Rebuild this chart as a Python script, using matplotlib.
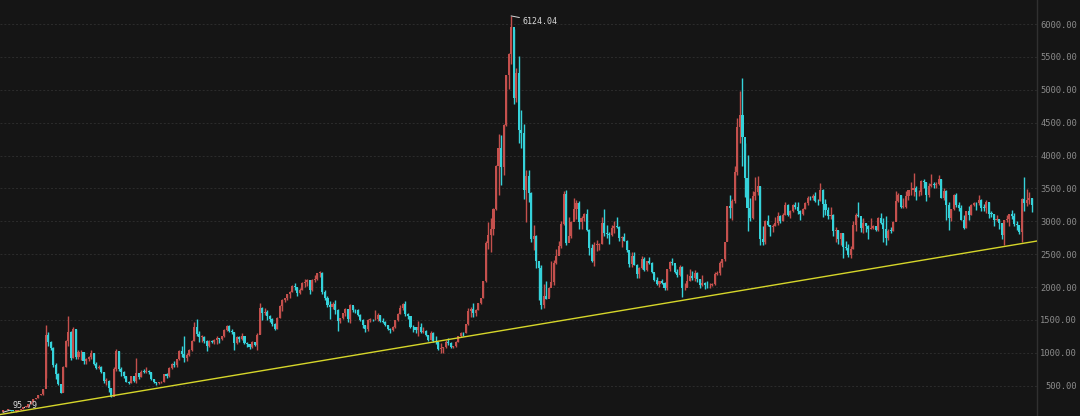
import matplotlib
matplotlib.use('Agg')
import matplotlib.pyplot as plt
import numpy as np

# monthly candles, Dec 1990 .. Jan 2025 (open = previous month close)
FIRST_OPEN = 96.05

close_px = [
    128,
    130, 133, 120, 114, 115, 138, 145, 178, 181, 219, 260, 293,
    313, 365, 376, 445, 1266, 1166, 1080, 822, 672, 526, 393, 780,
    1179, 1320, 926, 1358, 935, 1007, 1007, 880, 900, 931, 1000, 834,
    776, 792, 709, 570, 573, 467, 333, 748, 1033, 750, 713, 648,
    563, 549, 648, 565, 700, 630, 716, 713, 727, 716, 602, 555,
    538, 550, 560, 677, 643, 776, 826, 808, 904, 1036, 976, 917,
    964, 1040, 1188, 1391, 1289, 1243, 1245, 1181, 1098, 1180, 1166, 1194,
    1224, 1206, 1250, 1343, 1411, 1339, 1316, 1150, 1242, 1217, 1249, 1146,
    1134, 1090, 1158, 1120, 1279, 1689, 1601, 1627, 1567, 1512, 1435, 1367,
    1535, 1714, 1800, 1836, 1894, 1928, 2023, 2009, 1910, 1961, 2070, 2073,
    2103, 1960, 2112, 2119, 2214, 2218, 1920, 1834, 1724, 1690, 1748, 1646,
    1492, 1524, 1603, 1667, 1515, 1732, 1651, 1648, 1581, 1507, 1420, 1358,
    1500, 1512, 1511, 1521, 1577, 1487, 1476, 1421, 1367, 1348, 1397, 1497,
    1590, 1675, 1742, 1595, 1555, 1400, 1386, 1342, 1396, 1320, 1340, 1266,
    1191, 1306, 1181, 1159, 1060, 1080, 1083, 1162, 1155, 1092, 1099, 1161,
    1258, 1299, 1298, 1440, 1641, 1672, 1612, 1658, 1752, 1837, 2099, 2675,
    2786, 2881, 3183, 3841, 4109, 3820, 4471, 5218, 5552, 5954, 4871, 5261,
    4383, 4348, 3472, 3693, 3433, 2736, 2775, 2397, 2293, 1728, 1871, 1821,
    1990, 2082, 2373, 2477, 2632, 2959, 3412, 2667, 2779, 2996, 3195, 3277,
    2989, 3051, 3109, 2870, 2592, 2398, 2638, 2638, 2656, 2979, 2820, 2808,
    2790, 2905, 2928, 2911, 2743, 2762, 2701, 2567, 2359, 2468, 2333, 2199,
    2292, 2428, 2262, 2396, 2372, 2225, 2103, 2047, 2086, 2069, 1980, 2269,
    2385, 2365, 2236, 2177, 2300, 1979, 1994, 2098, 2175, 2141, 2220, 2116,
    2033, 2056, 2033, 2026, 2039, 2048, 2201, 2217, 2364, 2420, 2683, 3235,
    3210, 3310, 3748, 4441, 4612, 4277, 3664, 3206, 3053, 3383, 3445, 3539,
    2738, 2688, 3004, 2938, 2917, 2930, 2979, 3085, 3005, 3100, 3250, 3104,
    3159, 3242, 3223, 3155, 3117, 3192, 3273, 3361, 3349, 3393, 3317, 3307,
    3481, 3259, 3169, 3082, 3095, 2847, 2876, 2725, 2821, 2603, 2588, 2494,
    2585, 2941, 3091, 3078, 2899, 2979, 2933, 2886, 2905, 2929, 2872, 3050,
    2977, 2880, 2750, 2860, 2852, 2985, 3310, 3396, 3218, 3225, 3392, 3473,
    3483, 3509, 3442, 3447, 3615, 3591, 3397, 3544, 3568, 3547, 3564, 3640,
    3361, 3462, 3252, 3047, 3186, 3399, 3253, 3202, 3024, 2893, 3151, 3089,
    3255, 3280, 3273, 3323, 3205, 3202, 3291, 3119, 3110, 3018, 3030, 2975,
    2789, 3015, 3041, 3105, 3087, 2967, 2939, 2842, 3336, 3279, 3326, 3352,
    3250,
]

high_px = [
    128,
    132, 135, 134, 121, 116, 138, 146, 178, 191, 219, 260, 293,
    314, 365, 382, 446, 1429, 1310, 1180, 1090, 850, 690, 530, 800,
    1200, 1559, 1330, 1392, 1360, 1050, 1040, 1010, 920, 950, 1044, 1000,
    860, 810, 800, 712, 620, 580, 467, 780, 1052, 1030, 790, 720,
    650, 567, 650, 648, 926, 700, 740, 750, 780, 735, 716, 605,
    560, 560, 575, 680, 690, 780, 850, 880, 905, 1050, 1100, 1258,
    1000, 1060, 1200, 1470, 1510, 1330, 1270, 1250, 1200, 1200, 1190, 1215,
    1250, 1230, 1260, 1360, 1420, 1422, 1360, 1320, 1260, 1250, 1300, 1260,
    1160, 1140, 1180, 1170, 1300, 1756, 1700, 1680, 1650, 1580, 1530, 1450,
    1545, 1730, 1820, 1840, 1900, 1940, 2025, 2060, 2000, 1980, 2080, 2125,
    2130, 2110, 2120, 2190, 2215, 2245, 2230, 1960, 1870, 1790, 1780, 1800,
    1660, 1530, 1605, 1680, 1670, 1749, 1720, 1670, 1660, 1590, 1510, 1430,
    1510, 1530, 1520, 1650, 1600, 1580, 1530, 1480, 1430, 1380, 1410, 1500,
    1610, 1730, 1760, 1783, 1610, 1560, 1430, 1400, 1480, 1450, 1390, 1345,
    1270, 1330, 1310, 1250, 1165, 1146, 1090, 1200, 1223, 1160, 1110, 1180,
    1260, 1320, 1310, 1445, 1682, 1700, 1757, 1660, 1760, 1840, 2100, 2698,
    2994, 3050, 3200, 3850, 4335, 4311, 4475, 5230, 5560, 6124.04, 5920, 5330,
    5522, 4695, 4473, 3786, 3786, 3440, 2952, 2800, 2333, 2330, 2051, 2100,
    2000, 2402, 2407, 2580, 2700, 3000, 3454, 3478, 3068, 3000, 3361, 3330,
    3306, 3080, 3130, 3181, 2880, 2660, 2680, 2720, 2675, 3073, 3186, 2940,
    2841, 2940, 3000, 3067, 2930, 2770, 2827, 2710, 2540, 2536, 2536, 2350,
    2300, 2478, 2451, 2400, 2453, 2380, 2220, 2160, 2100, 2130, 2080, 2276,
    2400, 2444, 2330, 2270, 2334, 2320, 2070, 2200, 2270, 2240, 2260, 2230,
    2130, 2180, 2080, 2090, 2055, 2070, 2230, 2250, 2390, 2430, 2690, 3239,
    3406, 3340, 3835, 4572, 4986, 5178, 4184, 4006, 3357, 3459, 3679, 3684,
    3539, 2933, 3018, 3097, 2945, 2960, 3060, 3140, 3100, 3120, 3301, 3270,
    3175, 3260, 3295, 3290, 3170, 3200, 3300, 3387, 3390, 3418, 3450, 3333,
    3587, 3495, 3335, 3220, 3220, 3110, 2915, 2870, 2830, 2830, 2703, 2660,
    2620, 2998, 3129, 3288, 3040, 3050, 2980, 2945, 3050, 2950, 2930, 3064,
    3127, 3058, 3074, 2878, 2910, 3000, 3458, 3425, 3400, 3348, 3457, 3474,
    3600, 3731, 3540, 3480, 3625, 3640, 3600, 3590, 3723, 3600, 3600, 3708,
    3651, 3500, 3480, 3290, 3190, 3417, 3424, 3290, 3250, 3100, 3160, 3226,
    3270, 3300, 3300, 3397, 3346, 3260, 3322, 3300, 3150, 3110, 3090, 3040,
    2976, 3015, 3090, 3110, 3174, 3130, 3000, 2900, 3358, 3674, 3494, 3450,
    3350,
]

low_px = [
    95.79,
    125, 129, 118, 105, 104, 113, 137, 145, 176, 181, 218, 259,
    292, 312, 353, 365, 617, 1100, 1040, 780, 600, 512, 387, 400,
    778, 1100, 890, 920, 900, 900, 890, 835, 830, 880, 900, 820,
    760, 750, 700, 542, 510, 400, 326, 340, 720, 730, 650, 620,
    560, 524, 540, 550, 547, 610, 630, 690, 690, 680, 590, 545,
    512, 530, 540, 555, 620, 640, 760, 780, 790, 890, 940, 855,
    870, 950, 1030, 1180, 1250, 1170, 1160, 1150, 1030, 1090, 1150, 1140,
    1130, 1150, 1190, 1240, 1340, 1320, 1290, 1043, 1130, 1170, 1200, 1130,
    1090, 1064, 1080, 1100, 1047, 1280, 1500, 1570, 1500, 1470, 1410, 1341,
    1361, 1530, 1640, 1770, 1800, 1840, 1920, 1960, 1860, 1900, 1960, 2000,
    2020, 1895, 1940, 2080, 2110, 2150, 1900, 1810, 1700, 1514, 1670, 1590,
    1339, 1460, 1520, 1560, 1470, 1450, 1620, 1600, 1560, 1490, 1380, 1311,
    1340, 1470, 1490, 1500, 1480, 1470, 1460, 1410, 1350, 1307, 1330, 1380,
    1490, 1590, 1650, 1560, 1520, 1380, 1310, 1300, 1260, 1300, 1300, 1260,
    1180, 1190, 1170, 1130, 1040, 998, 1004, 1070, 1120, 1070, 1074, 1095,
    1160, 1240, 1260, 1300, 1430, 1540, 1540, 1560, 1650, 1740, 1830, 2080,
    2580, 2541, 2800, 3180, 3404, 3560, 3710, 4450, 5010, 5400, 4778, 4812,
    4195, 4123, 3333, 2990, 3300, 2693, 2566, 2284, 1802, 1665, 1679, 1814,
    1844, 2037, 2037, 2353, 2500, 2600, 2950, 2639, 2712, 2750, 3000, 3039,
    2890, 2890, 3000, 2860, 2481, 2380, 2320, 2550, 2570, 2650, 2770, 2750,
    2661, 2770, 2820, 2900, 2700, 2610, 2700, 2540, 2310, 2307, 2330, 2134,
    2132, 2280, 2242, 2240, 2350, 2220, 2100, 2030, 2000, 2040, 1959, 1949,
    2240, 2330, 2220, 2150, 2170, 1849, 1950, 2000, 2090, 2110, 2100, 2080,
    1985, 2010, 1975, 1990, 1992, 2010, 2030, 2180, 2190, 2300, 2400, 2700,
    3050, 3020, 3280, 3707, 4190, 3848, 3374, 2850, 3011, 3040, 3330, 3400,
    2638, 2640, 2650, 2930, 2780, 2840, 2930, 2950, 2970, 3010, 3090, 3088,
    3044, 3140, 3190, 3110, 3016, 3090, 3190, 3250, 3325, 3330, 3300, 3254,
    3308, 3062, 3100, 3040, 3040, 2782, 2691, 2653, 2645, 2449, 2561, 2462,
    2440, 2574, 2850, 3060, 2834, 2820, 2840, 2733, 2880, 2880, 2857, 2857,
    2961, 2686, 2647, 2720, 2830, 2860, 3000, 3300, 3202, 3200, 3209, 3325,
    3400, 3383, 3328, 3380, 3400, 3500, 3312, 3373, 3520, 3500, 3510, 3560,
    3356, 3330, 3023, 2863, 3000, 3180, 3220, 3155, 3020, 2885, 2899, 3020,
    3090, 3230, 3180, 3250, 3160, 3150, 3120, 3050, 3060, 2923, 3000, 2882,
    2724, 2635, 2985, 2930, 3040, 2930, 2865, 2810, 2689, 3152, 3230, 3265,
    3140,
]

# support line drawn on the chart (month index, value) at both ends
trend_x = [-1.2, 411.1]
trend_y = [62, 2701]

yticks = [500, 1000, 1500, 2000, 2500, 3000, 3500, 4000, 4500, 5000, 5500, 6000]

BG = '#151515'
RED = '#c4504d'
CYAN = '#35d2da'
GRID = '#2c2c2c'
LABEL = '#8c8c8c'

fig = plt.figure(figsize=(10.8, 4.16), dpi=100)
fig.patch.set_facecolor(BG)
ax = fig.add_axes([0, 0, 1037 / 1080, 1])
ax.set_facecolor(BG)

closes = np.array(close_px, dtype=float)
opens = np.concatenate([[FIRST_OPEN], closes[:-1]])
highs = np.array(high_px, dtype=float)
lows = np.array(low_px, dtype=float)
x = np.arange(len(closes))

up = closes >= opens
colors = np.where(up, RED, CYAN)

# wicks then bodies
ax.vlines(x, lows, highs, colors=colors, linewidth=1.0, zorder=2)
body_bot = np.minimum(opens, closes)
body_h = np.maximum(np.abs(closes - opens), 10)
ax.bar(x, body_h, bottom=body_bot, width=0.82, color=colors, linewidth=0, zorder=3)

# trend line
ax.plot(trend_x, trend_y, color='#d6d62a', linewidth=1.0, zorder=4)

# high / low markers
i_hi = int(np.argmax(highs))
i_lo = int(np.argmin(lows))
ax.annotate('%.2f' % highs[i_hi], xy=(i_hi, highs[i_hi]), xytext=(8, -4),
            textcoords='offset points', ha='left', va='center',
            color='#d8d8d8', fontsize=6, family='DejaVu Sans Mono',
            arrowprops=dict(arrowstyle='-', color='#d8d8d8', lw=0.7,
                            shrinkA=0, shrinkB=0), zorder=5)
ax.annotate('%.2f' % lows[i_lo], xy=(i_lo, lows[i_lo]), xytext=(7, 5),
            textcoords='offset points', ha='left', va='center',
            color='#d8d8d8', fontsize=6, family='DejaVu Sans Mono',
            arrowprops=dict(arrowstyle='-', color='#d8d8d8', lw=0.7,
                            shrinkA=0, shrinkB=0), zorder=5)

ax.set_xlim(-1.2, 411.1)
ax.set_ylim(40, 6366)

# grid
ax.set_yticks(yticks)
ax.set_xticks([])
ax.yaxis.grid(True, color=GRID, linestyle=(0, (2, 2)), linewidth=0.7)
ax.set_axisbelow(True)

# right-hand price labels
ax.yaxis.tick_right()
ax.set_yticklabels(['%.2f' % v for v in yticks])
ax.tick_params(axis='y', length=0, pad=28.8, colors=LABEL, labelsize=6.3)
for lbl in ax.get_yticklabels():
    lbl.set_horizontalalignment('right')
    lbl.set_family('DejaVu Sans Mono')

for s in ['top', 'left', 'bottom']:
    ax.spines[s].set_visible(False)
ax.spines['right'].set_color('#303030')
ax.spines['right'].set_linewidth(1.0)

fig.savefig('out.png', dpi=100, facecolor=BG)
